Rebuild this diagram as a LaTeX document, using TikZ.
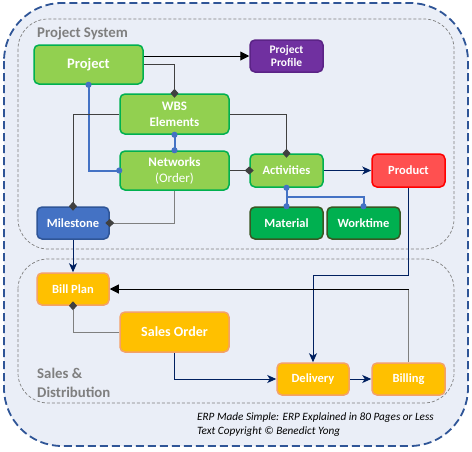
\documentclass[tikz,border=0pt]{standalone}
\usepackage{fontspec}
\setmainfont{Carlito}
\usetikzlibrary{arrows.meta,calc}
\definecolor{bg}{HTML}{EAEEF7}
\definecolor{outerblue}{HTML}{2F5597}
\definecolor{ttlgray}{HTML}{7F7F7F}
\definecolor{lgreen}{HTML}{92D050}
\definecolor{lgreenb}{HTML}{00B050}
\definecolor{dgreen}{HTML}{00B050}
\definecolor{dgreenb}{HTML}{385723}
\definecolor{purp}{HTML}{7030A0}
\definecolor{purpb}{HTML}{5B2386}
\definecolor{prodred}{HTML}{FF5050}
\definecolor{prodredb}{HTML}{FF0000}
\definecolor{msblue}{HTML}{4472C4}
\definecolor{msblueb}{HTML}{2F5597}
\definecolor{orng}{HTML}{FFC000}
\definecolor{orngb}{HTML}{F4A168}
\definecolor{navy}{HTML}{002060}
\definecolor{dgray}{HTML}{404040}
\definecolor{lgray}{HTML}{7F7F7F}
\definecolor{lnblue}{HTML}{4472C4}
\tikzset{
  box/.style={rounded corners=5pt, line width=1.5pt, text=white, align=center, inner sep=0pt,
    font=\bfseries\fontsize{12.5}{14}\selectfont},
  gbox/.style={box, fill=lgreen, draw=lgreenb},
  dgbox/.style={box, fill=dgreen, draw=dgreenb},
  pbox/.style={box, fill=purp, draw=purpb, font=\bfseries\fontsize{11.5}{13}\selectfont},
  rbox/.style={box, fill=prodred, draw=prodredb},
  bbox/.style={box, fill=msblue, draw=msblueb},
  obox/.style={box, fill=orng, draw=orngb},
  area/.style={draw=lgray, line width=0.7pt, dash pattern=on 3pt off 2pt, rounded corners=30pt},
  areatitle/.style={text=ttlgray, font=\bfseries\fontsize{14.8}{19}\selectfont, anchor=west, inner sep=0pt, align=left},
  dia/.style={draw=dgray, line width=1pt, -{Diamond[length=9pt,width=8pt,color=dgray,fill=dgray]}, shorten >=-4.5pt},
  diag/.style={draw=lgray, line width=1pt, -{Diamond[length=9pt,width=8pt,color=dgray,fill=dgray]}, shorten >=-4.5pt},
  bl/.style={draw=lnblue, line width=2pt},
  bldots/.style={bl, {Circle[length=6pt]}-{Circle[length=6pt]}, shorten <=-3pt, shorten >=-3pt},
  bldot/.style={bl, -{Circle[length=6pt]}, shorten >=-3pt},
  nav/.style={draw=navy, line width=1pt, -{Stealth[length=9pt,width=8pt,inset=2.5pt]}},
  blk/.style={draw=black, line width=1pt, -{Triangle[length=9pt,width=9pt]}},
}
\begin{document}
\begin{tikzpicture}[x=1pt,y=-1pt]
\useasboundingbox (0,0) rectangle (472,451);
\fill[white] (0,0) rectangle (472,451);
% outer frame
\draw[fill=bg, draw=outerblue, line width=1.8pt, dash pattern=on 8pt off 4pt, rounded corners=58pt]
  (4,3) rectangle (468,446);
% areas
\draw[area] (18,19) rectangle (454,249);
\draw[area] (18,259) rectangle (454,403);
\node[areatitle] (pstitle) at (37,34) {Project System};
\node[areatitle] (sdtitle) at (37,382.5) {Sales \&\\Distribution};

% nodes
\node[gbox, minimum width=109pt, minimum height=39pt, font=\bfseries\fontsize{14.5}{16}\selectfont] (proj) at (88.5,64.5) {Project};
\node[pbox, minimum width=73pt, minimum height=32pt] (prof) at (286.5,56) {Project\\Profile};
\node[gbox, minimum width=109pt, minimum height=40pt, font=\bfseries\fontsize{13}{16}\selectfont] (wbs) at (174.5,114) {WBS\\Elements};
\node[gbox, minimum width=109pt, minimum height=39pt, font=\bfseries\fontsize{13}{16}\selectfont] (net) at (174.5,170.5) {Networks\\{\mdseries (Order)}};
\node[gbox, minimum width=73pt, minimum height=33pt] (act) at (286.5,170.5) {Activities};
\node[rbox, minimum width=73pt, minimum height=33pt] (prod) at (408.5,170.5) {Product};
\node[dgbox, minimum width=73pt, minimum height=32pt] (mat) at (286.5,223) {Material};
\node[dgbox, minimum width=73pt, minimum height=32pt] (wt) at (363.5,223) {Worktime};
\node[bbox, minimum width=72pt, minimum height=32pt] (ms) at (73,223) {Milestone};
\node[obox, minimum width=72pt, minimum height=32pt] (bp) at (73,289) {Bill Plan};
\node[obox, minimum width=109pt, minimum height=40pt, font=\bfseries\fontsize{14}{16}\selectfont] (so) at (174.5,332) {Sales Order};
\node[obox, minimum width=72pt, minimum height=32pt] (del) at (313,379) {Delivery};
\node[obox, minimum width=73pt, minimum height=32pt] (bill) at (408.5,379) {Billing};

% connectors
\draw[blk] (proj.east |- prof.west) -- (prof.west);
\draw[dia] (proj.east) -| (wbs.north);
\draw[bldots] (proj.south) |- (net.west);
\draw[bldots] (wbs.south) -- (net.north);
\draw[dia] (wbs.west) -| (ms.north);
\draw[dia] (wbs.east) -| (act.north);
\draw[dia] (net.east) -- (act.west);
\draw[diag] (net.south) |- (ms.east);
\draw[nav] (act.east) -- (prod.west);
\draw[bldots] (act.south) -- (mat.north);
\coordinate (actmid) at ($(act.south)!0.5!(mat.north)$);
\draw[bldot] (actmid) -| (wt.north);
\coordinate (pk) at (313,275);
\draw[nav] (prod.south) |- (pk) -- (del.north);
\draw[nav] (ms.south) -- (bp.north);
\coordinate (bc) at (bill.north |- bp.east);
\draw[draw=lgray, line width=1pt] (bill.north) -- (bc);
\draw[blk] (bc) -- (bp.east);
\draw[diag] (so.west) -| (bp.south);
\draw[nav] (so.south) |- (del.west);
\draw[nav] (del.east) -- (bill.west);

% credit
\node[anchor=west, inner sep=0pt, align=left, font=\itshape\fontsize{11.2}{14}\selectfont] (credit) at (197,425)
  {ERP Made Simple: ERP Explained in 80 Pages or Less\\Text Copyright © Benedict Yong};
\end{tikzpicture}
\end{document}
